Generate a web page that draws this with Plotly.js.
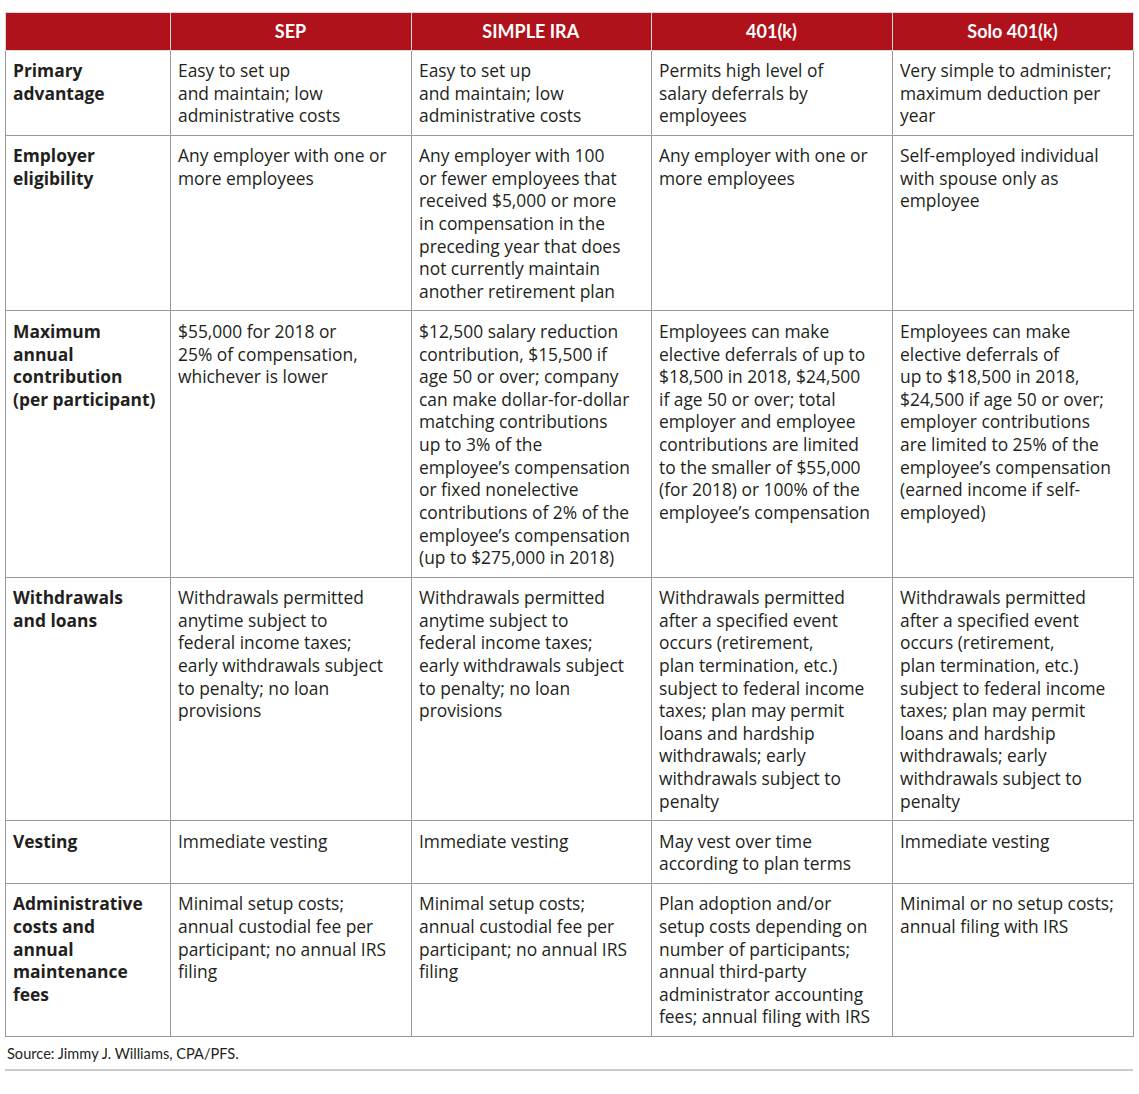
<!DOCTYPE html>
<html>
<head>
<meta charset="utf-8">
<script src="https://cdn.plot.ly/plotly-3.0.1.min.js"></script>
<style>
  body { margin: 0; background: #fff; }
  #plan-table { width: 1139px; height: 1094px; }
</style>
</head>
<body>
<div id="plan-table"></div>
<script>
const headers = ['', 'SEP', 'SIMPLE IRA', '401(k)', 'Solo 401(k)'];

const rowLabels = [
    'Primary<br>advantage',
    'Employer<br>eligibility',
    'Maximum<br>annual<br>contribution<br>(per participant)',
    'Withdrawals<br>and loans',
    'Vesting',
    'Administrative<br>costs and<br>annual<br>maintenance<br>fees'
];

const sepValues = [
    'Easy to set up<br>and maintain; low<br>administrative costs',
    'Any employer with one or<br>more employees',
    '$55,000 for 2018 or<br>25% of compensation,<br>whichever is lower',
    'Withdrawals permitted<br>anytime subject to<br>federal income taxes;<br>early withdrawals subject<br>to penalty; no loan<br>provisions',
    'Immediate vesting',
    'Minimal setup costs;<br>annual custodial fee per<br>participant; no annual IRS<br>filing'
];

const simpleIraValues = [
    'Easy to set up<br>and maintain; low<br>administrative costs',
    'Any employer with 100<br>or fewer employees that<br>received $5,000 or more<br>in compensation in the<br>preceding year that does<br>not currently maintain<br>another retirement plan',
    '$12,500 salary reduction<br>contribution, $15,500 if<br>age 50 or over; company<br>can make dollar-for-dollar<br>matching contributions<br>up to 3% of the<br>employee’s compensation<br>or fixed nonelective<br>contributions of 2% of the<br>employee’s compensation<br>(up to $275,000 in 2018)',
    'Withdrawals permitted<br>anytime subject to<br>federal income taxes;<br>early withdrawals subject<br>to penalty; no loan<br>provisions',
    'Immediate vesting',
    'Minimal setup costs;<br>annual custodial fee per<br>participant; no annual IRS<br>filing'
];

const k401Values = [
    'Permits high level of<br>salary deferrals by<br>employees',
    'Any employer with one or<br>more employees',
    'Employees can make<br>elective deferrals of up to<br>$18,500 in 2018, $24,500<br>if age 50 or over; total<br>employer and employee<br>contributions are limited<br>to the smaller of $55,000<br>(for 2018) or 100% of the<br>employee’s compensation',
    'Withdrawals permitted<br>after a specified event<br>occurs (retirement,<br>plan termination, etc.)<br>subject to federal income<br>taxes; plan may permit<br>loans and hardship<br>withdrawals; early<br>withdrawals subject to<br>penalty',
    'May vest over time<br>according to plan terms',
    'Plan adoption and/or<br>setup costs depending on<br>number of participants;<br>annual third-party<br>administrator accounting<br>fees; annual filing with IRS'
];

const solo401Values = [
    'Very simple to administer;<br>maximum deduction per<br>year',
    'Self-employed individual<br>with spouse only as<br>employee',
    'Employees can make<br>elective deferrals of<br>up to $18,500 in 2018,<br>$24,500 if age 50 or over;<br>employer contributions<br>are limited to 25% of the<br>employee’s compensation<br>(earned income if self-<br>employed)',
    'Withdrawals permitted<br>after a specified event<br>occurs (retirement,<br>plan termination, etc.)<br>subject to federal income<br>taxes; plan may permit<br>loans and hardship<br>withdrawals; early<br>withdrawals subject to<br>penalty',
    'Immediate vesting',
    'Minimal or no setup costs;<br>annual filing with IRS'
];

const sourceNote = 'Source: Jimmy J. Williams, CPA/PFS.';

const W = 1139;
const H = 1094;
const margin = {l: 5, r: 6, t: 12, b: 20};
const headFont = 'Lato, "Liberation Sans", sans-serif';
const bodyFont = '"Open Sans", "Liberation Sans", sans-serif';

// pixel y (from top of page) -> paper y
function paperY(py) {
    return (H - margin.b - py) / (H - margin.t - margin.b);
}

// plotly puts one-line cells a bit higher than wrapped ones, so give them a blank 2nd line
function padSingle(list) {
    return list.map(s => s.indexOf('<br>') < 0 ? s + '<br>&nbsp;' : s);
}

const tableData = [
    {
        type: 'table',
        columnwidth: [165, 241, 240, 241, 241],
        header: {
            values: headers.map(h => '<b>' + h + '</b>'),
            align: 'center',
            height: 35,
            fill: {color: '#B0121B'},
            line: {color: '#d8d8d8', width: 1},
            font: {family: headFont, size: 18, color: '#ffffff'}
        },
        cells: {
            values: [
                padSingle(rowLabels).map(s => '<b>' + s + '</b>'),
                padSingle(sepValues),
                padSingle(simpleIraValues),
                padSingle(k401Values),
                padSingle(solo401Values)
            ],
            align: 'left',
            height: 30,
            fill: {color: '#ffffff'},
            line: {color: '#999999', width: 1},
            font: {family: bodyFont, size: 17.4, color: '#231F20'}
        }
    }
];

const layout = {
    width: W,
    height: H,
    margin: margin,
    paper_bgcolor: '#ffffff',
    font: {family: bodyFont},
    annotations: [
        {
            text: sourceNote,
            xref: 'paper', yref: 'paper',
            x: 0, y: paperY(1053),
            xanchor: 'left', yanchor: 'middle',
            showarrow: false,
            font: {family: headFont, size: 14.6, color: '#231F20'}
        }
    ],
    shapes: [
        {
            type: 'line',
            xref: 'paper', yref: 'paper',
            x0: 0, x1: 1, y0: paperY(1070), y1: paperY(1070),
            line: {color: '#999999', width: 1}
        }
    ]
};

Plotly.newPlot('plan-table', tableData, layout, {staticPlot: true});
</script>
</body>
</html>
